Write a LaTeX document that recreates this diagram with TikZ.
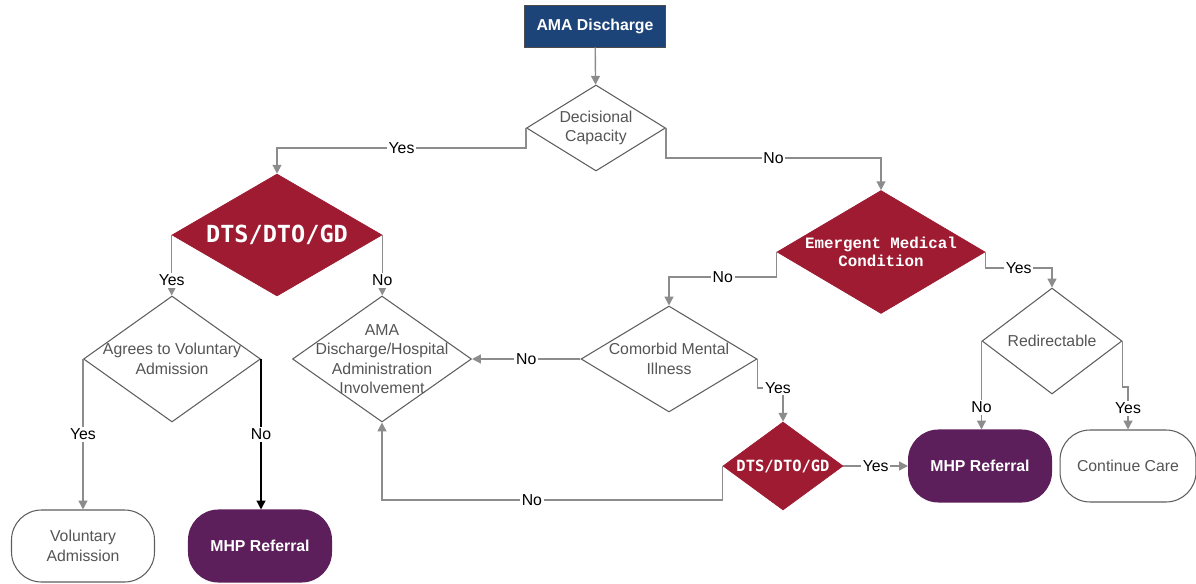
\documentclass[tikz,border=0pt]{standalone}
\usepackage{fontspec}
\setmainfont{Liberation Sans}
\newfontfamily\dtsfont{DejaVu Sans Mono}
\newfontfamily\courfont{Liberation Mono}
\usetikzlibrary{shapes.geometric,arrows.meta,calc}
\definecolor{amablue}{HTML}{1D4478}
\definecolor{maroon}{HTML}{9E1B32}
\definecolor{plum}{HTML}{5C1F5B}
\definecolor{wire}{HTML}{8C8C8C}
\definecolor{edge}{HTML}{5E5E5E}
\definecolor{greytext}{HTML}{555555}

\begin{document}
\begin{tikzpicture}[x=0.02cm,y=-0.02cm,>={Triangle[length=5pt,width=5pt]},
  flow/.style={->,draw=wire,line width=0.8pt},
  lbl/.style={fill=white,inner sep=1pt,text=black,font=\fontsize{9}{11}\selectfont},
  dtxt/.style={align=center,text=greytext,font=\fontsize{9}{11}\selectfont},
  dec/.style={diamond,draw=edge,line width=0.6pt,fill=white,inner sep=0pt},
  hot/.style={diamond,draw=maroon,fill=maroon,inner sep=0pt},
  term/.style={rectangle,rounded corners=0.6cm,draw=edge,line width=0.6pt,fill=white,minimum width=2.86cm,minimum height=1.44cm,align=center,text=greytext,font=\fontsize{9}{11}\selectfont},
  refer/.style={term,draw=plum,fill=plum,text=white,font=\fontsize{9}{11}\selectfont\bfseries}]
\useasboundingbox (0,0) rectangle (1196,584);
% nodes
\node[rectangle,draw=black!70,fill=amablue,minimum width=2.82cm,minimum height=0.84cm,text=white,font=\fontsize{9}{11}\selectfont\bfseries] (start) at (595,26) {AMA Discharge};
\node[dec,minimum width=2.78cm,minimum height=1.72cm,label={[dtxt]center:{Decisional\\Capacity}}] (cap) at (596,128) {};
\node[hot,minimum width=4.2cm,minimum height=2.44cm,label={[text=white,font=\dtsfont\fontsize{13.4}{15}\selectfont\bfseries]center:DTS/DTO/GD}] (dtsA) at (277,235) {};
\node[hot,minimum width=4.16cm,minimum height=2.46cm,label={[align=center,text=white,font=\courfont\fontsize{9}{10}\selectfont\bfseries]center:{Emergent Medical\\Condition}}] (emc) at (881,252) {};
\node[dec,minimum width=3.54cm,minimum height=2.52cm,label={[dtxt]center:{Agrees to Voluntary\\Admission}}] (agree) at (172,359) {};
\node[dec,minimum width=3.58cm,minimum height=2.52cm,label={[dtxt]center:{AMA\\Discharge/Hospital\\Administration\\Involvement}}] (amah) at (382,359) {};
\node[dec,minimum width=3.52cm,minimum height=2.12cm,label={[dtxt]center:{Comorbid Mental\\Illness}}] (comor) at (669,359) {};
\node[dec,minimum width=2.8cm,minimum height=2.12cm,label={[dtxt]center:Redirectable}] (redir) at (1052,341) {};
\node[hot,minimum width=2.4cm,minimum height=1.76cm,label={[text=white,font=\dtsfont\fontsize{8.8}{10}\selectfont\bfseries]center:DTS/DTO/GD}] (dtsB) at (783,466) {};
\node[term] (vola) at (83,546) {Voluntary\\Admission};
\node[refer] (mhpA) at (260,546) {MHP Referral};
\node[refer] (mhpB) at (980,466) {MHP Referral};
\node[term,minimum width=2.72cm] (cont) at (1128,466) {Continue Care};
% connectors
\draw[flow] (start) -- (cap);
\draw[flow] (cap.west) -- ++(0,20) -| node[lbl,pos=0.25] {Yes} (dtsA.north);
\draw[flow] (cap.east) -- ++(0,30) -| node[lbl,pos=0.25] {No} (emc.north);
\draw[flow] (dtsA.west) -- node[lbl,pos=0.75] {Yes} (dtsA.west |- agree.north);
\draw[flow] (dtsA.east) -- node[lbl,pos=0.75] {No} (dtsA.east |- amah.north);
\draw[flow] (agree.west) -- node[lbl] {Yes} (agree.west |- vola.north);
\draw[flow,draw=black] (agree.east) -- node[lbl] {No} (agree.east |- mhpA.north);
\draw[flow] (emc.west) -- ++(0,25) -| node[lbl,pos=0.25] {No} (comor.north);
\draw[flow] (emc.east) -- ++(0,16) -| node[lbl,pos=0.25] {Yes} (redir.north);
\draw[flow] (comor.west) -- node[lbl] {No} (amah.east);
\draw[flow] (comor.east) -- ++(0,29) -| node[lbl,pos=0.4] {Yes} (dtsB.north);
\draw[flow] (dtsB.west) -- ++(0,34) -| node[lbl,pos=0.28] {No} (amah.south);
\draw[flow] (dtsB.east) -- node[lbl] {Yes} (mhpB.west);
\draw[flow] (redir.west) -- node[lbl,pos=0.75] {No} (redir.west |- mhpB.north);
\draw[flow] (redir.east) -- ++(0,46) -| node[lbl,pos=0.75] {Yes} (cont.north);
\end{tikzpicture}
\end{document}
